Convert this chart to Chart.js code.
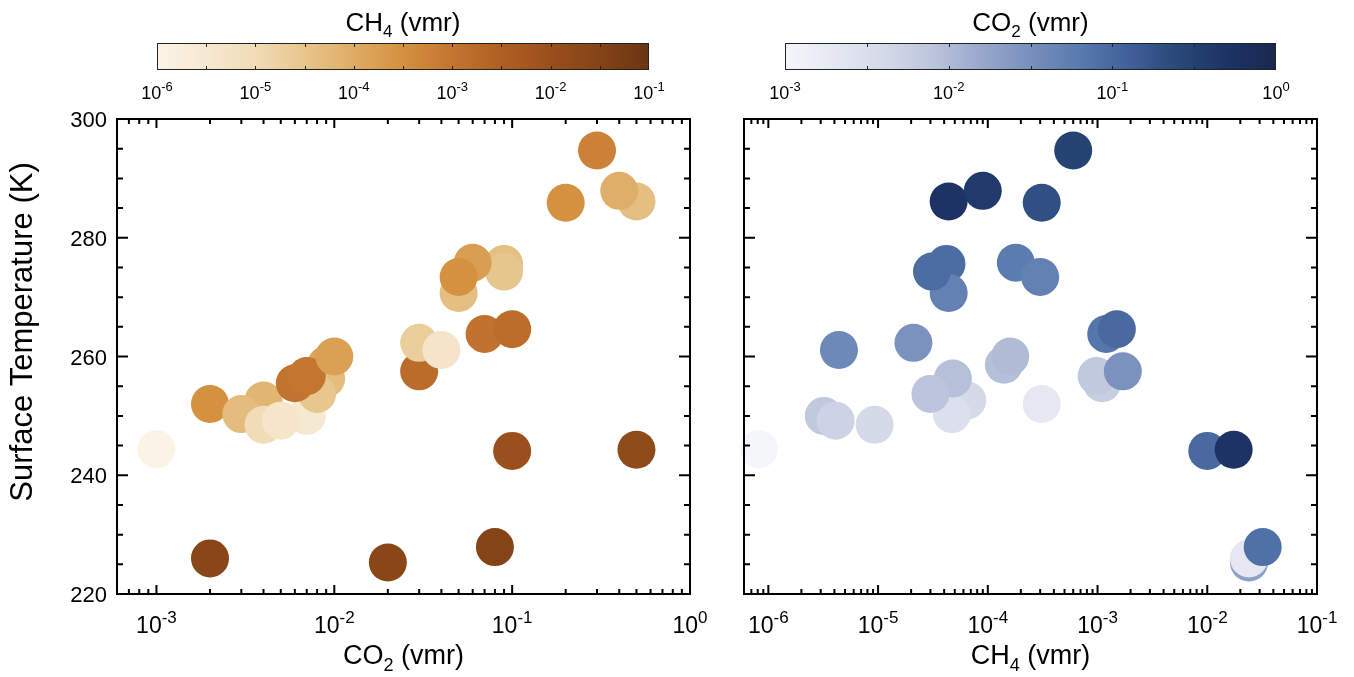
<!DOCTYPE html>
<html>
<head>
<meta charset="utf-8">
<script src="https://cdn.jsdelivr.net/npm/chart.js@4.4.1/dist/chart.umd.min.js"></script>
<style>
  body { margin:0; background:#fff; }
  #wrap { position:relative; width:1354px; height:677px; overflow:hidden; background:#fff; }
  #wrap canvas { position:absolute; left:0; top:0; }
</style>
</head>
<body>
<div id="wrap">
  <canvas id="sc-co2" width="1354" height="677"></canvas>
  <canvas id="sc-ch4" width="1354" height="677"></canvas>
  <canvas id="cb-ch4" width="1354" height="677"></canvas>
  <canvas id="cb-co2" width="1354" height="677"></canvas>
</div>
<script>
// ─── Model runs: CO2, CH4 mixing ratios and resulting surface temperature ───
const CO2   = [0.001, 0.002, 0.004, 0.003, 0.004, 0.007, 0.005, 0.009, 0.009, 0.008,
               0.006, 0.007, 0.01, 0.03, 0.03, 0.04, 0.07, 0.1, 0.09, 0.05,
               0.09, 0.06, 0.05, 0.1, 0.5, 0.02, 0.002, 0.08, 0.5, 0.4, 0.2, 0.3];
const CH4   = [8.2e-7, 3.1e-4, 6.5e-5, 4.7e-5, 9.3e-6, 3.2e-6, 4.1e-6, 1.4e-4, 4.8e-5, 3.0e-5,
               1.1e-3, 9.8e-4, 1.6e-4, 1.7e-3, 2.1e-5, 4.4e-6, 1.2e-3, 1.5e-3, 4.2e-5, 4.4e-5,
               3.1e-5, 1.8e-4, 3.0e-4, 1.0e-2, 1.74e-2, 2.4e-2, 2.4e-2, 3.2e-2, 4.4e-5, 9.0e-5, 3.1e-4, 6.0e-4];
const TSURF = [244.4, 252.0, 252.6, 250.3, 248.5, 250.0, 249.2, 258.6, 256.3, 253.7,
               255.5, 256.7, 260.0, 257.5, 262.3, 261.1, 263.8, 264.6, 275.6, 270.7,
               274.3, 275.8, 273.4, 244.1, 244.3, 225.3, 226.0, 227.9, 286.1, 287.9, 285.9, 294.7];

// axis ranges and labels
const CO2_AXIS  = [6e-4, 1];
const CH4_AXIS  = [6e-7, 0.1];
const T_AXIS    = [220, 300];
const T_LABELS  = [220, 240, 260, 280, 300];
const CO2_EXP   = [-3, -2, -1, 0];
const CH4_EXP   = [-6, -5, -4, -3, -2, -1];

// colour bars
const CB_CH4     = [1e-6, 1e-1];
const CB_CH4_EXP = [-6, -5, -4, -3, -2, -1];
const CB_CO2     = [1e-3, 1];
const CB_CO2_EXP = [-3, -2, -1, 0];

const CH4_MAP = ['#fbf4e6','#f6e9d2','#f0dcb5','#e7c68c','#deac64','#d4913f','#c47530','#b05f22','#9a4f1c','#844417','#6a3512'];
const CO2_MAP = ['#f5f6fa','#e5e8f2','#d5dae9','#bcc5dc','#98a8cb','#7890bc','#587aad','#41609a','#284878','#1c3364','#1a284e'];

const FONT = '"Liberation Sans", Arial, Helvetica, sans-serif';

// ─── helpers ────────────────────────────────────────────────────────────────
const hex = h => [1,3,5].map(i => parseInt(h.slice(i,i+2),16));

function mapColor(v, range, map) {
  const l0 = Math.log10(range[0]), l1 = Math.log10(range[1]);
  let t = (Math.log10(v) - l0) / (l1 - l0);
  t = Math.min(1, Math.max(0, t)) * (map.length - 1);
  const i = Math.min(map.length - 2, Math.floor(t)), f = t - i;
  const a = hex(map[i]), b = hex(map[i+1]);
  return `rgb(${a.map((c,k)=>Math.round(c + (b[k]-c)*f)).join(',')})`;
}

// draw text made of pieces [text, size, dy] (sub/superscripts)
function rich(ctx, parts, x, y, align) {
  let w = 0;
  parts.forEach(p => { ctx.font = p[1]+'px '+FONT; w += ctx.measureText(p[0]).width; });
  let cx = align==='center' ? x - w/2 : align==='right' ? x - w : x;
  parts.forEach(p => {
    ctx.font = p[1]+'px '+FONT;
    ctx.fillText(p[0], cx, y + (p[2]||0));
    cx += ctx.measureText(p[0]).width;
  });
}
const decade = (e, big, small, rise) => [['10', big], [String(e), small, -rise]];

function logTicks(range) {
  const out = [];
  for (let d = Math.floor(Math.log10(range[0])); d <= Math.ceil(Math.log10(range[1])); d++)
    for (let m = 1; m <= 9; m++) {
      const v = m * Math.pow(10, d);
      if (v >= range[0]*0.999 && v <= range[1]*1.001) out.push({ v, major: m===1 });
    }
  return out;
}

// ─── frame, inward ticks and labels for the scatter panels ──────────────────
const panelAxes = {
  id: 'panelAxes',
  afterDatasetsDraw(chart, args, o) {
    const { ctx, chartArea: a, scales: { x, y } } = chart;
    ctx.save();
    ctx.strokeStyle = '#000'; ctx.fillStyle = '#000'; ctx.lineWidth = 2;
    ctx.beginPath();
    logTicks(o.xRange).forEach(t => {
      const px = x.getPixelForValue(t.v), len = t.major ? 9 : 5;
      ctx.moveTo(px, a.bottom); ctx.lineTo(px, a.bottom - len);
      ctx.moveTo(px, a.top);    ctx.lineTo(px, a.top + len);
    });
    for (let v = T_AXIS[0]; v <= T_AXIS[1]; v += 5) {
      const py = y.getPixelForValue(v), len = v % 20 === 0 ? 11 : 6;
      ctx.moveTo(a.left, py);  ctx.lineTo(a.left + len, py);
      ctx.moveTo(a.right, py); ctx.lineTo(a.right - len, py);
    }
    ctx.stroke();
    ctx.strokeRect(a.left, a.top, a.right - a.left, a.bottom - a.top);

    ctx.textBaseline = 'alphabetic';
    o.xExp.forEach(e => rich(ctx, decade(e, 23, 17, 10), x.getPixelForValue(Math.pow(10, e)), a.bottom + 39, 'center'));
    if (o.yLabels) {
      T_LABELS.forEach(v => rich(ctx, [[String(v), 22]], a.left - 10, y.getPixelForValue(v) + 8, 'right'));
      ctx.save();
      ctx.translate(32, 332);
      ctx.rotate(-Math.PI / 2);
      rich(ctx, [['Surface Temperature (K)', 31]], 0, 0, 'center');
      ctx.restore();
    }
    rich(ctx, o.xTitle, (a.left + a.right) / 2, a.bottom + 70, 'center');
    ctx.restore();
  }
};

function scatterPanel(id, xs, xRange, colRange, colMap, pad, xExp, yLabels, xTitle) {
  return new Chart(document.getElementById(id), {
    type: 'scatter',
    data: { datasets: [{
      data: xs.map((v, i) => ({ x: v, y: TSURF[i] })),
      pointBackgroundColor: xs.map((v, i) => mapColor(colRange === CB_CH4 ? CH4[i] : CO2[i], colRange, colMap)),
      pointBorderWidth: 0, pointRadius: 19, pointHoverRadius: 19, clip: false
    }]},
    options: {
      responsive: false, animation: false, events: [],
      layout: { padding: pad },
      plugins: { legend: { display: false }, tooltip: { enabled: false },
                 panelAxes: { xRange, xExp, yLabels, xTitle } },
      scales: {
        x: { type: 'logarithmic', min: xRange[0], max: xRange[1], display: false },
        y: { type: 'linear', min: T_AXIS[0], max: T_AXIS[1], display: false }
      }
    },
    plugins: [panelAxes]
  });
}

// ─── colour bars ────────────────────────────────────────────────────────────
const barAxes = {
  id: 'barAxes',
  afterDatasetsDraw(chart, args, o) {
    const { ctx, chartArea: a, scales: { x } } = chart;
    ctx.save();
    ctx.strokeStyle = '#222'; ctx.fillStyle = '#000'; ctx.lineWidth = 1;
    ctx.beginPath();
    const l0 = Math.log10(o.range[0]), l1 = Math.log10(o.range[1]);
    for (let l = l0 + 0.5; l < l1; l += 0.5) {
      const px = Math.round(x.getPixelForValue(Math.pow(10, l))) + 0.5;
      ctx.moveTo(px, a.top); ctx.lineTo(px, a.top + 4);
      ctx.moveTo(px, a.bottom); ctx.lineTo(px, a.bottom - 4);
    }
    ctx.stroke();
    ctx.strokeRect(a.left + 0.5, a.top + 0.5, a.right - a.left - 1, a.bottom - a.top - 1);
    o.exp.forEach(e => rich(ctx, decade(e, 18, 13, 8), x.getPixelForValue(Math.pow(10, e)), a.bottom + 29, 'center'));
    rich(ctx, o.title, (a.left + a.right) / 2, a.top - 12, 'center');
    ctx.restore();
  }
};

function colorBar(id, range, map, pad, exp, title) {
  return new Chart(document.getElementById(id), {
    type: 'bar',
    data: { labels: [''], datasets: [{
      data: [[range[0], range[1]]],
      backgroundColor: c => {
        const a = c.chart.chartArea;
        if (!a) return map[0];
        const g = c.chart.ctx.createLinearGradient(a.left, 0, a.right, 0);
        map.forEach((col, i) => g.addColorStop(i / (map.length - 1), col));
        return g;
      },
      borderWidth: 0, barPercentage: 1, categoryPercentage: 1
    }]},
    options: {
      indexAxis: 'y', responsive: false, animation: false, events: [],
      layout: { padding: pad },
      plugins: { legend: { display: false }, tooltip: { enabled: false },
                 barAxes: { range, exp, title } },
      scales: {
        x: { type: 'logarithmic', min: range[0], max: range[1], display: false },
        y: { display: false }
      }
    },
    plugins: [barAxes]
  });
}

const co2Title = [['CO', 27], ['2', 18, 7], [' (vmr)', 27]];
const ch4Title = [['CH', 27], ['4', 18, 7], [' (vmr)', 27]];

scatterPanel('sc-co2', CO2, CO2_AXIS, CB_CH4, CH4_MAP,
  { left: 117, top: 119, right: 664, bottom: 83 }, CO2_EXP, true, co2Title);
scatterPanel('sc-ch4', CH4, CH4_AXIS, CB_CO2, CO2_MAP,
  { left: 744, top: 119, right: 37, bottom: 83 }, CH4_EXP, false, ch4Title);

colorBar('cb-ch4', CB_CH4, CH4_MAP, { left: 157, top: 43, right: 705, bottom: 607 }, CB_CH4_EXP,
  [['CH', 26], ['4', 17, 6], [' (vmr)', 26]]);
colorBar('cb-co2', CB_CO2, CO2_MAP, { left: 785, top: 43, right: 78, bottom: 607 }, CB_CO2_EXP,
  [['CO', 26], ['2', 17, 6], [' (vmr)', 26]]);
</script>
</body>
</html>
